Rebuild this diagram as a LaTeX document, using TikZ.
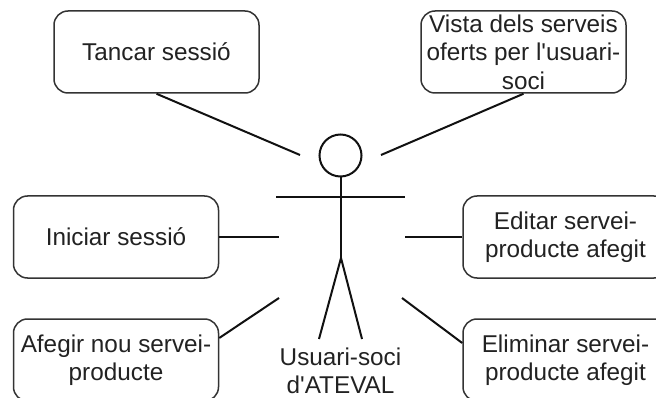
\documentclass[tikz,border=0pt]{standalone}
\usepackage{fontspec}
\setmainfont[Ligatures=TeXOff]{Liberation Sans}
\definecolor{boxline}{HTML}{333333}
\definecolor{inkline}{HTML}{111111}
\definecolor{inktext}{HTML}{222222}
\tikzset{
  usecase/.style={draw=boxline,line width=1.5pt,rounded corners=14pt,fill=white,
    minimum width=205pt,minimum height=82pt,inner sep=0pt,align=center,text=inktext,
    font=\fontsize{24.3pt}{28.5pt}\selectfont},
  link/.style={draw=inkline,line width=2pt},
  actorline/.style={draw=inkline,line width=2pt},
  actorlabel/.style={inner sep=0pt,align=center,text=inktext,font=\fontsize{24.3pt}{28.5pt}\selectfont}
}
\begin{document}
\begin{tikzpicture}[x=1pt,y=-1pt]
\clip (0,0) rectangle (656,398);
\useasboundingbox (0,0) rectangle (656,398);
\node[usecase] (tancar) at (156.5,52) {Tancar sessió};
\node[usecase] (vista) at (523.5,52) {Vista dels serveis\\oferts per l'usuari-\\soci};
\node[usecase] (iniciar) at (116,237) {Iniciar sessió};
\node[usecase] (afegir) at (116,360) {Afegir nou servei-\\producte};
\node[usecase] (editar) at (565.5,237) {Editar servei-\\producte afegit};
\node[usecase] (eliminar) at (565.5,360) {Eliminar servei-\\producte afegit};
\node[draw=inkline,line width=2pt,circle,minimum size=42pt,inner sep=0pt] (head) at (340.5,155.5) {};
\coordinate (armL) at (276,197);
\coordinate (armR) at (405,197);
\coordinate (hip) at (341,258);
\coordinate (neck) at (341,176);
\coordinate (footL) at (319,339);
\coordinate (footR) at (362,339);
\draw[actorline] (neck) -- (hip);
\draw[actorline] (armL) -- (armR);
\draw[actorline] (footL) -- (hip) -- (footR);
\node[actorlabel] (actorname) at (340.5,371) {Usuari-soci\\d'ATEVAL};
\coordinate (a1) at (300,155);
\coordinate (a2) at (381,155);
\coordinate (a3) at (279,237);
\coordinate (a4) at (405,237);
\coordinate (a5) at (279,298);
\coordinate (a6) at (402,298);
\draw[link] (tancar.south) -- (a1);
\draw[link] (vista.south) -- (a2);
\draw[link] (iniciar.east) -- (a3);
\draw[link] (editar.west) -- (a4);
\draw[link] ([yshift=22pt]afegir.east) -- (a5);
\draw[link] ([yshift=17pt]eliminar.west) -- (a6);
\end{tikzpicture}
\end{document}
